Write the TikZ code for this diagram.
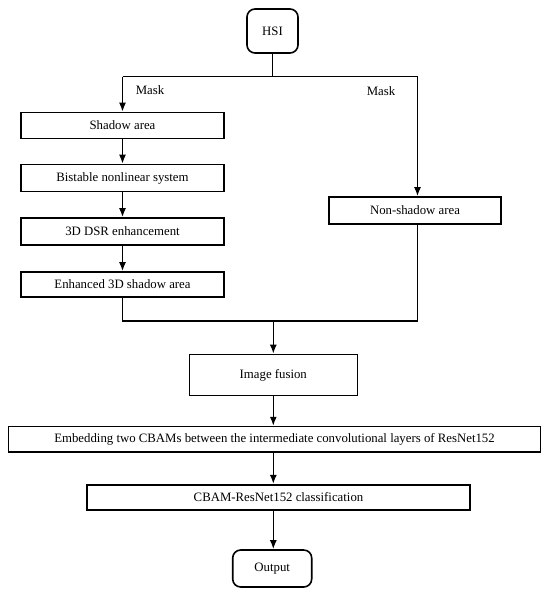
\documentclass[tikz,border=0pt]{standalone}
\usepackage{fontspec}
\setmainfont{Liberation Serif}
\usetikzlibrary{arrows.meta}
\begin{document}
\begin{tikzpicture}[x=1pt,y=-1pt,
  every node/.style={font=\fontsize{12.8}{15}\selectfont},
  box/.style={draw,line width=1.6pt,inner sep=0pt,minimum height=26pt},
  rbox/.style={box,rounded corners=8pt},
  conn/.style={line width=1.6pt},
  arr/.style={conn,-{Latex[length=9pt,width=7pt]}}]
\useasboundingbox (0,0) rectangle (550,597);
\node[rbox,minimum width=51pt,minimum height=44pt] (hsi) at (272.5,31) {HSI};
\node[box,minimum width=203pt] (shadow) at (122.5,125.5) {Shadow area};
\node[box,minimum width=203pt,minimum height=27pt] (bist) at (122.5,178) {Bistable nonlinear system};
\node[box,minimum width=203pt,minimum height=27pt] (dsr) at (122.5,231.5) {3D DSR enhancement};
\node[box,minimum width=203pt,minimum height=25pt] (enh) at (122.5,284.5) {Enhanced 3D shadow area};
\node[box,minimum width=172pt,minimum height=27pt] (non) at (415,210.5) {Non-shadow area};
\node[box,minimum width=168pt,minimum height=41pt] (fus) at (273.3,375) {Image fusion};
\node[box,minimum width=532pt,minimum height=25.5pt] (emb) at (274.5,439.4) {Embedding two CBAMs between the intermediate convolutional layers of ResNet152};
\node[box,minimum width=383pt,minimum height=25.5pt] (cls) at (278.5,497.5) {CBAM-ResNet152 classification};
\node[rbox,minimum width=79pt,minimum height=37pt] (out) at (272.2,568.5) {Output};
\node (m1) at (150,90) {Mask};
\node (m2) at (381,91) {Mask};
\coordinate (jl) at (122.5,76.5);
\coordinate (jr) at (417.5,76.5);
\coordinate (jt) at (272.5,76.5);
\coordinate (ml) at (122.5,321);
\coordinate (mr) at (417.5,321);
\coordinate (mc) at (273.3,321);
\draw[conn] (hsi) -- (jt);
\draw[conn] (jl) -- (jr);
\draw[arr] (jl) -- (shadow);
\draw[arr] (jr) -- (jr |- non.north);
\draw[arr] (shadow) -- (bist);
\draw[arr] (bist) -- (dsr);
\draw[arr] (dsr) -- (enh);
\draw[conn] (enh) -- (ml) -- (mr) -- (mr |- non.south);
\draw[arr] (mc) -- (fus);
\draw[arr] (fus) -- (fus |- emb.north);
\draw[arr] (fus |- emb.south) -- (fus |- cls.north);
\draw[arr] (fus |- cls.south) -- (fus |- out.north);
\end{tikzpicture}
\end{document}
